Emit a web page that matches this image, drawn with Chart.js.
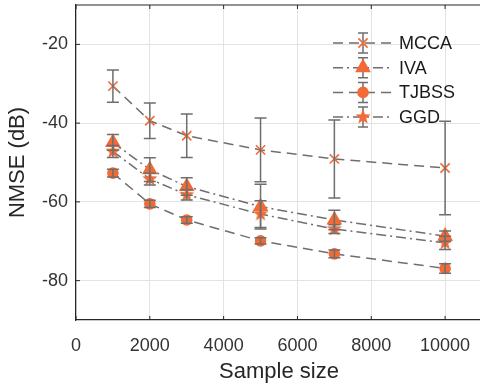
<!DOCTYPE html>
<html>
<head>
<meta charset="utf-8">
<script src="https://cdn.jsdelivr.net/npm/chart.js@4.4.1/dist/chart.umd.min.js"></script>
<style>
  html, body { margin: 0; padding: 0; background: #fff; overflow: hidden; }
</style>
</head>
<body>
<canvas id="nmseChart" width="490" height="386"></canvas>
<script>
// --- data ---
const sampleSizes = [1000, 2000, 3000, 5000, 7000, 10000];
const methodNames = ['MCCA', 'IVA', 'TJBSS', 'GGD'];

const mccaMean = [-30.6, -39.4, -43.2, -46.8, -49.1, -51.4];
const mccaErr  = [4.1, 4.5, 5.5, 8.1, 9.9, 11.9];
const ivaMean  = [-44.9, -51.8, -56.1, -61.2, -64.6, -68.7];
const ivaErr   = [2.0, 3.0, 2.2, 5.7, 2.5, 1.3];
const tjbssMean = [-52.7, -60.5, -64.6, -69.9, -73.2, -76.9];
const tjbssErr  = [1.0, 0.9, 0.8, 0.8, 1.0, 1.2];
const ggdMean  = [-47.2, -54.2, -58.2, -63.1, -66.9, -70.4];
const ggdErr   = [1.5, 1.5, 1.3, 3.4, 1.1, 1.7];

const xTicks = [0, 2000, 4000, 6000, 8000, 10000];
const yTicks = [-80, -60, -40, -20];

const ORANGE = '#f26a35';
const GREY = '#6e6e6e';
const AXIS = '#262626';
const FONT = "'Liberation Sans', Arial, Helvetica, sans-serif";

// filled five-point star for GGD (Chart.js 'star' is only an asterisk)
function makeStar(r) {
    const c = document.createElement('canvas');
    c.width = c.height = Math.ceil(2 * r + 2);
    const g = c.getContext('2d');
    const cx = c.width / 2, cy = c.height / 2;
    g.beginPath();
    for (let k = 0; k < 10; k++) {
        const rad = k % 2 === 0 ? r : r * 0.42;
        const a = -Math.PI / 2 + k * Math.PI / 5;
        g.lineTo(cx + rad * Math.cos(a), cy + rad * Math.sin(a));
    }
    g.closePath();
    g.fillStyle = ORANGE;
    g.fill();
    return c;
}
const starImg = makeStar(8);

const DASH = [10, 6];
const DASHDOT = [10, 4, 2, 4];

function series(label, mean, err, style, radius, dash) {
    return {
        label: label,
        data: sampleSizes.map((x, i) => ({ x: x, y: mean[i] })),
        errors: err,
        borderColor: GREY,
        borderWidth: 1.5,
        borderDash: dash,
        pointStyle: style,
        pointRadius: radius,
        pointBorderColor: ORANGE,
        pointBackgroundColor: ORANGE,
        pointBorderWidth: 1.6,
        fill: false,
        tension: 0
    };
}

const datasets = [
    series(methodNames[0], mccaMean, mccaErr, 'crossRot', 6.5, DASH),
    series(methodNames[1], ivaMean, ivaErr, 'triangle', 7.5, DASHDOT),
    series(methodNames[2], tjbssMean, tjbssErr, 'circle', 5, DASH),
    series(methodNames[3], ggdMean, ggdErr, starImg, 8, DASHDOT)
];

// error bars, drawn through the scales
const errorBars = {
    id: 'errorBars',
    afterDatasetsDraw(chart) {
        const ctx = chart.ctx, xs = chart.scales.x, ys = chart.scales.y;
        ctx.save();
        ctx.strokeStyle = GREY;
        ctx.lineWidth = 1.5;
        chart.data.datasets.forEach(ds => {
            ds.data.forEach((p, j) => {
                const x = xs.getPixelForValue(p.x);
                const t = ys.getPixelForValue(p.y + ds.errors[j]);
                const b = ys.getPixelForValue(p.y - ds.errors[j]);
                ctx.beginPath();
                ctx.moveTo(x, t); ctx.lineTo(x, b);
                ctx.moveTo(x - 6, t); ctx.lineTo(x + 6, t);
                ctx.moveTo(x - 6, b); ctx.lineTo(x + 6, b);
                ctx.stroke();
            });
        });
        ctx.restore();
    }
};

// matlab-like box: top edge and inward ticks
const boxTicks = {
    id: 'boxTicks',
    afterDraw(chart) {
        const ctx = chart.ctx, a = chart.chartArea;
        const xs = chart.scales.x, ys = chart.scales.y;
        ctx.save();
        ctx.strokeStyle = AXIS;
        ctx.lineWidth = 1.2;
        ctx.beginPath();
        ctx.moveTo(a.left, a.top); ctx.lineTo(a.right, a.top);
        ctx.stroke();
        ctx.lineWidth = 1;
        ctx.beginPath();
        xTicks.forEach(v => {
            const x = xs.getPixelForValue(v);
            ctx.moveTo(x, a.bottom); ctx.lineTo(x, a.bottom - 4);
            ctx.moveTo(x, a.top); ctx.lineTo(x, a.top + 4);
        });
        yTicks.forEach(v => {
            const y = ys.getPixelForValue(v);
            ctx.moveTo(a.left, y); ctx.lineTo(a.left + 4, y);
        });
        ctx.stroke();
        ctx.restore();
    }
};

// legend with line sample, marker and error bar
const nmseLegend = {
    id: 'nmseLegend',
    afterDraw(chart) {
        const ctx = chart.ctx;
        const x0 = 333, x1 = 393, xm = 363, y0 = 43, step = 24.7;
        ctx.save();
        chart.data.datasets.forEach((ds, i) => {
            const y = y0 + i * step;
            ctx.strokeStyle = GREY;
            ctx.lineWidth = 1.5;
            ctx.setLineDash(ds.borderDash);
            ctx.beginPath();
            ctx.moveTo(x0, y); ctx.lineTo(x1, y);
            ctx.stroke();
            ctx.setLineDash([]);
            ctx.beginPath();
            ctx.moveTo(xm, y - 10); ctx.lineTo(xm, y + 10);
            ctx.moveTo(xm - 5, y - 10); ctx.lineTo(xm + 5, y - 10);
            ctx.moveTo(xm - 5, y + 10); ctx.lineTo(xm + 5, y + 10);
            ctx.stroke();
            ctx.fillStyle = ORANGE;
            ctx.strokeStyle = ORANGE;
            ctx.lineWidth = ds.pointBorderWidth;
            Chart.helpers.drawPoint(ctx, {
                pointStyle: ds.pointStyle,
                radius: ds.pointRadius,
                borderWidth: ds.pointBorderWidth,
                rotation: 0
            }, xm, y);
            ctx.fillStyle = '#1a1a1a';
            ctx.font = '18px ' + FONT;
            ctx.textBaseline = 'middle';
            ctx.fillText(ds.label, 399, y + 1);
        });
        ctx.restore();
    }
};

new Chart(document.getElementById('nmseChart'), {
    type: 'line',
    data: { datasets: datasets },
    plugins: [errorBars, boxTicks, nmseLegend],
    options: {
        responsive: false,
        animation: false,
        layout: { autoPadding: false, padding: { top: 5, right: 8, left: 0, bottom: 0 } },
        plugins: { legend: { display: false }, tooltip: { enabled: false } },
        scales: {
            x: {
                type: 'linear',
                min: 0,
                max: 11000,
                afterBuildTicks: s => { s.ticks = xTicks.map(v => ({ value: v })); },
                afterFit: s => { s.height = 66; s.paddingLeft = 0; s.paddingRight = 0; },
                grid: { color: '#e3e3e3', drawTicks: false },
                border: { color: AXIS, width: 1.2 },
                ticks: {
                    padding: 15, color: '#333', maxRotation: 0,
                    font: { family: FONT, size: 18 },
                    callback: v => String(v)
                },
                title: {
                    display: true, text: 'Sample size', color: '#262626',
                    font: { family: FONT, size: 22 }, padding: { top: 0, bottom: 1 }
                }
            },
            y: {
                min: -90,
                max: -10,
                afterBuildTicks: s => { s.ticks = yTicks.map(v => ({ value: v })); },
                afterFit: s => { s.width = 76; s.paddingTop = 0; s.paddingBottom = 0; },
                grid: { color: '#e3e3e3', drawTicks: false },
                border: { color: AXIS, width: 1.2 },
                ticks: { padding: 8, color: '#333', font: { family: FONT, size: 18 } },
                title: {
                    display: true, text: 'NMSE (dB)', color: '#262626',
                    font: { family: FONT, size: 22 }, padding: { top: 5, bottom: 0 }
                }
            }
        }
    }
});
</script>
</body>
</html>
